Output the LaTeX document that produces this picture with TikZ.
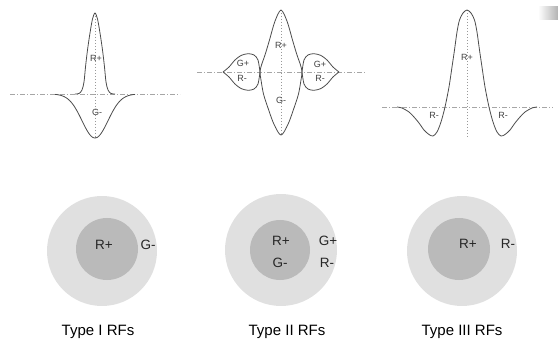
\documentclass[tikz,border=0pt]{standalone}
\usepackage{fontspec}
\setmainfont{Liberation Sans}
\begin{document}
\begin{tikzpicture}[x=1pt,y=-1pt,
  curve/.style={draw=black!70, line width=0.8pt, line join=round},
  base/.style={draw=black!35, line width=0.6pt, dash pattern=on 5pt off 2pt on 1pt off 2pt},
  axis/.style={draw=black!40, line width=0.6pt, dash pattern=on 1.5pt off 1.5pt},
  small/.style={font=\fontsize{9}{10}\selectfont, text=black!75, inner sep=0pt},
  mid/.style={font=\fontsize{13.5}{15}\selectfont, text=black!85, inner sep=0pt, anchor=base},
  capt/.style={font=\fontsize{15}{17}\selectfont, text=black, inner sep=0pt, anchor=base},
  outerdisc/.style={fill=black!12},
  innerdisc/.style={fill=black!27}]
\useasboundingbox (0,0) rectangle (558,345);

% faint smudge top right
\shade[left color=white, right color=black!30] (538,7) rectangle (558,20);

% ---------- Type I profile ----------
\begin{scope}[shift={(95,94)}, yscale=-1]
  \draw[base] (-85,0) -- (85,0);
  \draw[axis] (0,81) -- (0,-44);
  \draw[curve] plot[smooth] coordinates {(-20,0) (-16,0.5) (-13,4) (-11,12) (-9.5,27) (-7.5,44) (-5,61) (-2.5,75) (0,81) (2.5,75) (5,61) (7.5,44) (9.5,27) (11,12) (13,4) (16,0.5) (20,0)};
  \draw[curve] plot[domain=-40:40, samples=61, smooth] (\x, {-44*exp(-(\x)^2/338)});
\end{scope}
\node[small] (p1r) at (96,58) {R+};
\node[small] (p1g) at (97,112) {G-};

% ---------- Type II profile ----------
\begin{scope}[shift={(281,72)}, yscale=-1]
  \draw[base] (-84,0) -- (84,0);
  \draw[axis] (0,62) -- (0,-63);
  \draw[curve] plot[smooth cycle] coordinates {(0,62) (3,58) (7,48) (11.5,32) (16,17) (19.5,7) (21,0) (20,-8) (17.5,-22) (13,-36) (8,-50) (3,-60) (0,-63) (-3,-60) (-8,-50) (-13,-36) (-17.5,-22) (-20,-8) (-21,0) (-19.5,7) (-16,17) (-11.5,32) (-7,48) (-3,58)};
  \draw[curve] plot[smooth] coordinates {(-58,0) (-52,5) (-46,12) (-40,16.5) (-33,18.3) (-27,17) (-23,12) (-21,0)};
  \draw[curve] plot[smooth] coordinates {(-58,0) (-52,-5) (-46,-12) (-40,-16.5) (-33,-18.3) (-27,-17) (-23,-12) (-21,0)};
  \draw[curve] plot[smooth] coordinates {(58,0) (52,5) (46,12) (40,16.5) (33,18.3) (27,17) (23,12) (21,0)};
  \draw[curve] plot[smooth] coordinates {(58,0) (52,-5) (46,-12) (40,-16.5) (33,-18.3) (27,-17) (23,-12) (21,0)};
\end{scope}
\node[small] (p2r) at (281,45) {R+};
\node[small] (p2g) at (281,100) {G-};
\node[small] (p2lg) at (243,63) {G+};
\node[small] (p2lr) at (242,78) {R-};
\node[small] (p2rg) at (320,64) {G+};
\node[small] (p2rr) at (320,78) {R-};

% ---------- Type III profile ----------
\begin{scope}[shift={(467,107)}, yscale=-1]
  \draw[base] (-85,0) -- (86,0);
  \draw[axis] (0,97) -- (0,-30);
  \draw[curve] plot[smooth] coordinates {(-70,0) (-65,-1) (-58,-5) (-53,-10) (-48,-16) (-43,-23) (-38,-27.5) (-34,-29) (-30,-25) (-26,-15) (-22,0) (-18,20) (-15,40) (-12.5,57) (-10,75) (-7.5,87) (-4,94) (0,97) (4,94) (7.5,87) (10,75) (12.5,57) (15,40) (18,20) (22,0) (26,-15) (30,-25) (34,-29) (38,-27.5) (43,-23) (48,-16) (53,-10) (58,-5) (65,-1) (70,0)};
\end{scope}
\node[small] (p3r) at (467,57) {R+};
\node[small] (p3l) at (434,115) {R-};
\node[small] (p3rr) at (503,115) {R-};

% ---------- receptive field discs ----------
\fill[outerdisc] (102,251) circle[radius=55];
\fill[innerdisc] (107,249) circle[radius=31];
\node[mid] (d1r) at (104,250) {R+};
\node[mid] (d1g) at (148,250) {G-};

\fill[outerdisc] (281,250) circle[radius=56];
\fill[innerdisc] (280,250) circle[radius=30];
\node[mid] (d2r) at (281,245) {R+};
\node[mid] (d2g) at (328,245) {G+};
\node[mid] (d2gm) at (280,267) {G-};
\node[mid] (d2rm) at (327,267) {R-};

\fill[outerdisc] (462,251) circle[radius=55];
\fill[innerdisc] (459,249) circle[radius=31];
\node[mid] (d3r) at (468,248) {R+};
\node[mid] (d3rm) at (508,248) {R-};

% ---------- captions ----------
\node[capt] (c1) at (98,335) {Type I RFs};
\node[capt] (c2) at (287,335) {Type II RFs};
\node[capt] (c3) at (462,335) {Type III RFs};
\end{tikzpicture}
\end{document}
